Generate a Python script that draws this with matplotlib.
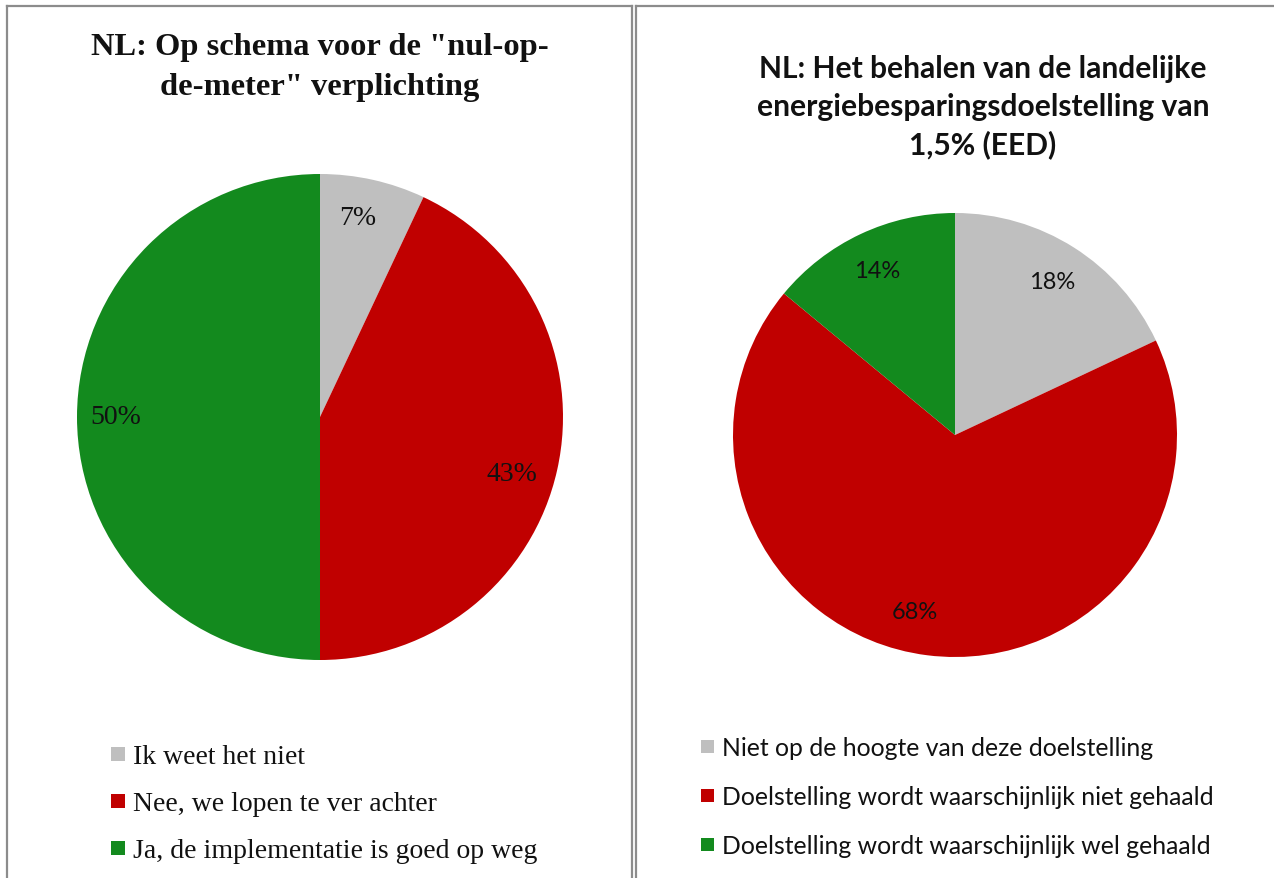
import matplotlib
matplotlib.use("Agg")
import matplotlib.pyplot as plt
from matplotlib.patches import Rectangle
from matplotlib.lines import Line2D

# ---- data ----
left_title = ['NL: Op schema voor de "nul-op-', 'de-meter" verplichting']
left_labels = ["Ik weet het niet", "Nee, we lopen te ver achter", "Ja, de implementatie is goed op weg"]
left_values = [7, 43, 50]

right_title = ["NL: Het behalen van de landelijke", "energiebesparingsdoelstelling van", "1,5% (EED)"]
right_labels = ["Niet op de hoogte van deze doelstelling",
                "Doelstelling wordt waarschijnlijk niet gehaald",
                "Doelstelling wordt waarschijnlijk wel gehaald"]
right_values = [18, 68, 14]

colors = ["#BFBFBF", "#C00000", "#138A1E"]

W, H = 1274, 879
fig = plt.figure(figsize=(W / 100, H / 100), dpi=100)
fig.patch.set_facecolor("white")

def fx(x):
    return x / W

def fy(y):
    return 1 - y / H

SERIF = "Liberation Serif"
SANS = "Lato"

# ---- panel borders ----
bc = "#8C8C8C"
blw = 1.6
for (x0, y0, x1, y1) in [(7, 7, 7, H), (7, 7, 632, 7), (632, 7, 632, H),
                         (636, 7, 636, H), (636, 7, W, 7)]:
    fig.add_artist(Line2D([fx(x0), fx(x1)], [fy(y0), fy(y1)], color=bc, lw=blw,
                          transform=fig.transFigure))

def pie_axes(cx, cy, r):
    ax = fig.add_axes([fx(cx - r), fy(cy + r), 2 * r / W, 2 * r / H])
    ax.set_xlim(-1, 1)
    ax.set_ylim(-1, 1)
    ax.set_aspect("equal")
    ax.axis("off")
    return ax

def nudge(t, dx, dy):
    x, y = t.get_position()
    t.set_position((x + dx, y + dy))

# ---- left pie ----
axl = pie_axes(320, 418, 243)
wl, tl, al = axl.pie(left_values, colors=colors, startangle=90, counterclock=False,
                     radius=1, autopct=lambda p: f"{p:.0f}%", pctdistance=0.84,
                     textprops=dict(fontfamily=SERIF, fontsize=20, color="#111111"))
axl.set_xlim(-1, 1)
axl.set_ylim(-1, 1)
nudge(al[0], -0.03, 0.0)
nudge(al[1], -0.03, -0.05)

# ---- right pie ----
axr = pie_axes(955, 436, 222)
wr, tr, ar = axr.pie(right_values, colors=colors, startangle=90, counterclock=False,
                     radius=1, autopct=lambda p: f"{p:.0f}%", pctdistance=0.82,
                     textprops=dict(fontfamily=SANS, fontsize=17, color="#111111"))
axr.set_xlim(-1, 1)
axr.set_ylim(-1, 1)
nudge(ar[1], -0.08, 0.02)

# ---- titles ----
for i, line in enumerate(left_title):
    fig.text(fx(320), fy(47 + 40 * i), line, ha="center", va="center",
             fontfamily=SERIF, fontweight="bold", fontsize=23.4, color="#111111")
for i, line in enumerate(right_title):
    fig.text(fx(983), fy(69 + 38 * i), line, ha="center", va="center",
             fontfamily=SANS, fontweight="bold", fontsize=21.6, color="#111111")

# ---- legends ----
def legend(x_sq, sq, x_txt, y0, dy, labels, family, size):
    for i, (lab, c) in enumerate(zip(labels, colors)):
        y = y0 + dy * i
        fig.add_artist(Rectangle((fx(x_sq), fy(y + sq / 2)), sq / W, sq / H,
                                 facecolor=c, edgecolor="none", transform=fig.transFigure))
        fig.text(fx(x_txt), fy(y), lab, ha="left", va="center_baseline",
                 fontfamily=family, fontsize=size, color="#111111")

legend(111, 14, 133, 755, 47, left_labels, SERIF, 20)
legend(701, 13, 722, 747, 49, right_labels, SANS, 17.8)

fig.savefig("out.png", dpi=100, facecolor="white")
